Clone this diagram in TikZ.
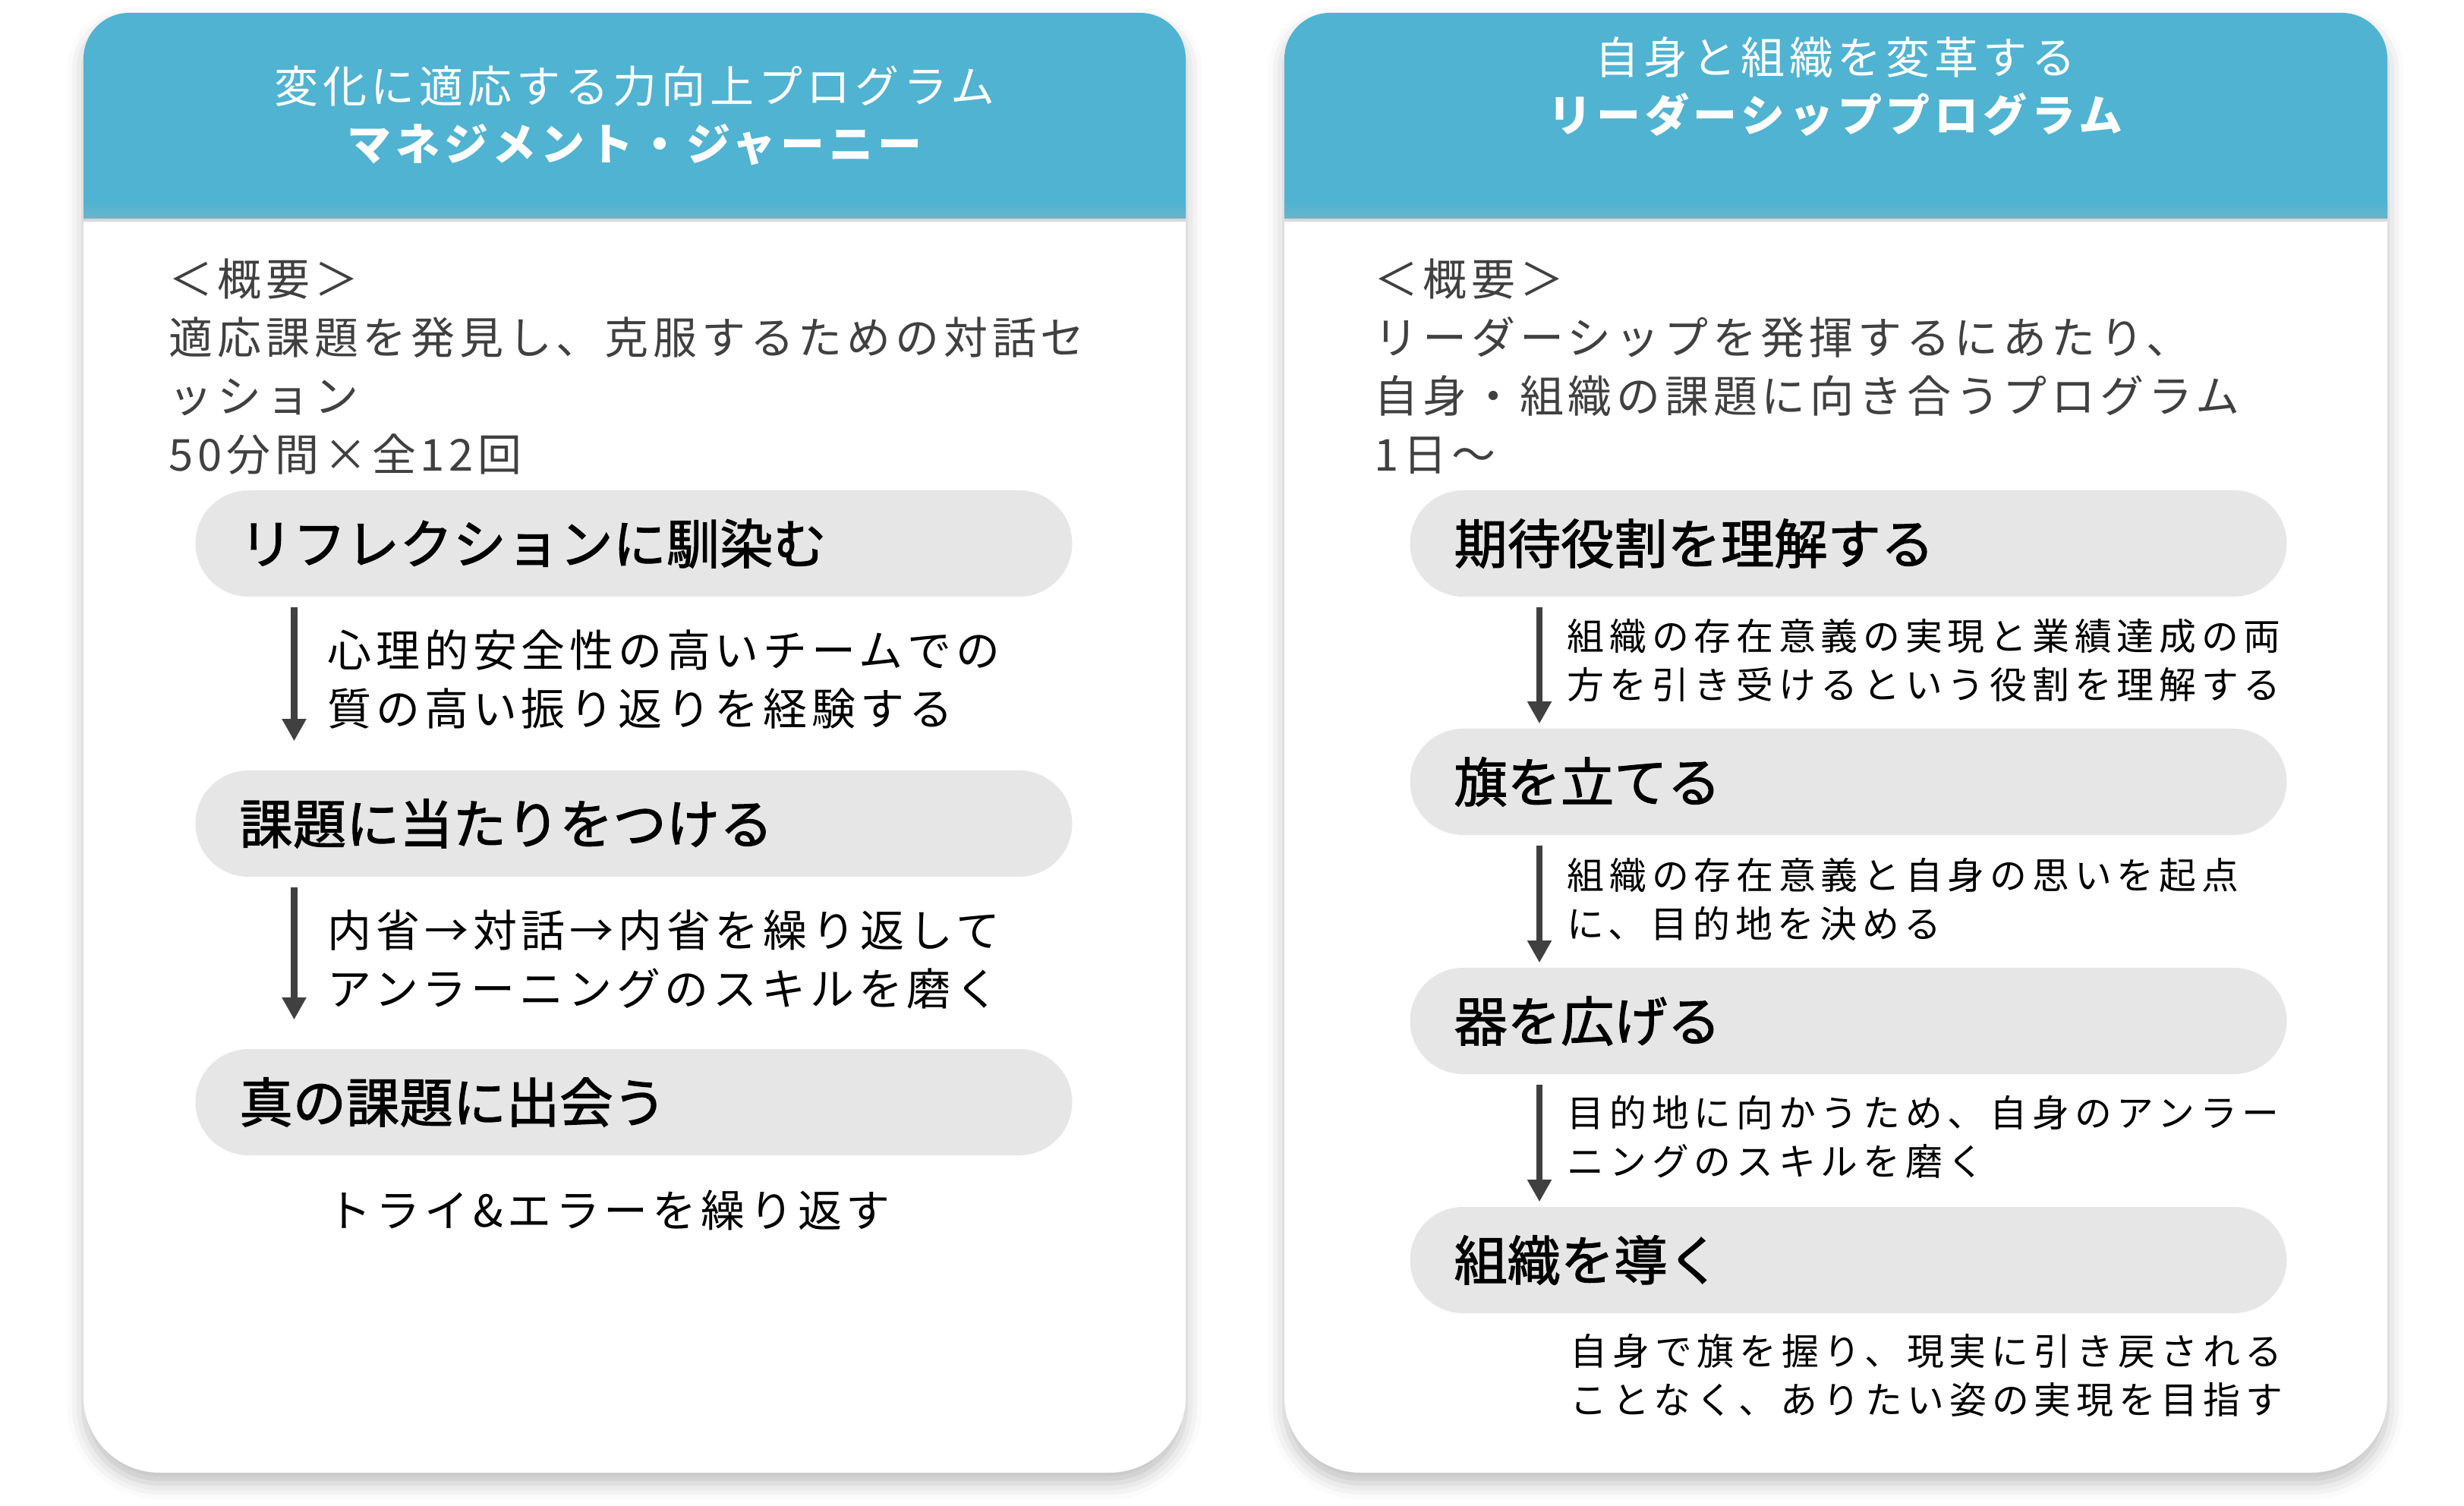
\documentclass[tikz,border=0pt]{standalone}
\usepackage{fontspec}
\setmainfont{Noto Sans CJK JP}
\newfontfamily\spacedfont{Noto Sans CJK JP}[LetterSpace=10]
\newfontfamily\spacedsmallfont{Noto Sans CJK JP}[LetterSpace=14]
\newfontfamily\pillfont{Noto Sans CJK JP}[FakeBold=1.6]
\usetikzlibrary{arrows.meta,shadows.blur}

\definecolor{headblue}{RGB}{80,179,209}
\definecolor{headdark}{RGB}{106,180,201}
\definecolor{headline}{RGB}{217,217,217}
\definecolor{pillgrey}{RGB}{230,230,230}
\definecolor{textgrey}{RGB}{64,64,64}

\tikzset{
  cardshadow/.style={blur shadow={shadow xshift=0pt, shadow yshift=-4pt, shadow blur radius=6pt, shadow opacity=25}},
  headtext/.style={text=white, inner sep=0pt, align=center, font=\spacedfont\fontsize{16.5pt}{21.6pt}\selectfont},
  summary/.style={text=textgrey, inner sep=0pt, align=left, anchor=west, font=\spacedfont\fontsize{16.5pt}{21.9pt}\selectfont},
  pill/.style={fill=pillgrey, rounded corners=0.7cm, minimum width=11.55cm, minimum height=1.4cm, inner xsep=0.58cm, inner ysep=0pt, text width=10.39cm, align=left, font=\pillfont\fontsize{20pt}{24pt}\selectfont},
  desc/.style={inner sep=0pt, align=left, anchor=west, font=\spacedfont\fontsize{16.5pt}{21.9pt}\selectfont},
  smalldesc/.style={inner sep=0pt, align=left, anchor=west, font=\spacedsmallfont\fontsize{13.9pt}{18.2pt}\selectfont},
  flow/.style={draw=textgrey, line width=2.4pt, -{Triangle[width=8.6pt,length=8.3pt]}, shorten <=0.13cm}
}

\begin{document}
\begin{tikzpicture}
    \useasboundingbox (0,0) rectangle (32.46,-19.84);

    % Draw the two cards with their blue headers
    \fill[white, cardshadow] (1.10,-0.77) arc[start angle=180,end angle=90,radius=0.6] -- (15.02,-0.17) arc[start angle=90,end angle=0,radius=0.6] -- (15.62,-18.40) arc[start angle=0,end angle=-90,radius=1] -- (2.10,-19.40) arc[start angle=270,end angle=180,radius=1] -- cycle;
    \fill[headblue] (1.10,-2.88) -- (1.10,-0.77) arc[start angle=180,end angle=90,radius=0.6] -- (15.02,-0.17) arc[start angle=90,end angle=0,radius=0.6] -- (15.62,-2.88) -- cycle;
    \shade[top color=headblue, bottom color=headdark] (1.10,-2.66) rectangle (15.62,-2.88);
    \fill[headline] (1.10,-2.88) rectangle (15.62,-2.92);

    \fill[white, cardshadow] (16.92,-0.77) arc[start angle=180,end angle=90,radius=0.6] -- (30.85,-0.17) arc[start angle=90,end angle=0,radius=0.6] -- (31.45,-18.40) arc[start angle=0,end angle=-90,radius=1] -- (17.92,-19.40) arc[start angle=270,end angle=180,radius=1] -- cycle;
    \fill[headblue] (16.92,-2.88) -- (16.92,-0.77) arc[start angle=180,end angle=90,radius=0.6] -- (30.85,-0.17) arc[start angle=90,end angle=0,radius=0.6] -- (31.45,-2.88) -- cycle;
    \shade[top color=headblue, bottom color=headdark] (16.92,-2.66) rectangle (31.45,-2.88);
    \fill[headline] (16.92,-2.88) rectangle (31.45,-2.92);

    % Left card: management journey
    \node[headtext] (lhead) at (8.36,-1.52) {変化に適応する力向上プログラム\\{\bfseries マネジメント・ジャーニー}};
    \node[summary] (lsum) at (2.22,-4.83) {＜概要＞\\適応課題を発見し、克服するための対話セ\\ッション\\50分間×全12回};

    \node[pill] (lp1) at (8.35,-7.16) {リフレクションに馴染む};
    \node[pill] (lp2) at (8.35,-10.85) {課題に当たりをつける};
    \node[pill] (lp3) at (8.35,-14.52) {真の課題に出会う};

    \node[desc] (ld1) at (4.31,-8.95) {心理的安全性の高いチームでの\\質の高い振り返りを経験する};
    \node[desc] (ld2) at (4.31,-12.64) {内省→対話→内省を繰り返して\\アンラーニングのスキルを磨く};
    \node[desc] (ld3) at (4.31,-15.94) {トライ\&エラーを繰り返す};

    \coordinate (lax) at (3.875,0);
    \draw[flow, shorten >=0.38cm] (lp1.south -| lax) -- (lp2.north -| lax);
    \draw[flow, shorten >=0.38cm] (lp2.south -| lax) -- (lp3.north -| lax);

    % Right card: leadership program
    \node[headtext] (rhead) at (24.18,-1.14) {自身と組織を変革する\\{\bfseries リーダーシッププログラム}};
    \node[summary] (rsum) at (18.10,-4.83) {＜概要＞\\リーダーシップを発揮するにあたり、\\自身・組織の課題に向き合うプログラム\\1日〜};

    \node[pill] (rp1) at (24.35,-7.16) {期待役割を理解する};
    \node[pill] (rp2) at (24.35,-10.30) {旗を立てる};
    \node[pill] (rp3) at (24.35,-13.45) {器を広げる};
    \node[pill] (rp4) at (24.35,-16.60) {組織を導く};

    \node[smalldesc] (rd1) at (20.64,-8.70) {組織の存在意義の実現と業績達成の両\\方を引き受けるという役割を理解する};
    \node[smalldesc] (rd2) at (20.64,-11.85) {組織の存在意義と自身の思いを起点\\に、目的地を決める};
    \node[smalldesc] (rd3) at (20.64,-14.98) {目的地に向かうため、自身のアンラー\\ニングのスキルを磨く};
    \node[smalldesc] (rd4) at (20.68,-18.12) {自身で旗を握り、現実に引き戻される\\ことなく、ありたい姿の実現を目指す};

    \coordinate (rax) at (20.28,0);
    \draw[flow, shorten >=0.06cm] (rp1.south -| rax) -- (rp2.north -| rax);
    \draw[flow, shorten >=0.06cm] (rp2.south -| rax) -- (rp3.north -| rax);
    \draw[flow, shorten >=0.06cm] (rp3.south -| rax) -- (rp4.north -| rax);
\end{tikzpicture}
\end{document}
